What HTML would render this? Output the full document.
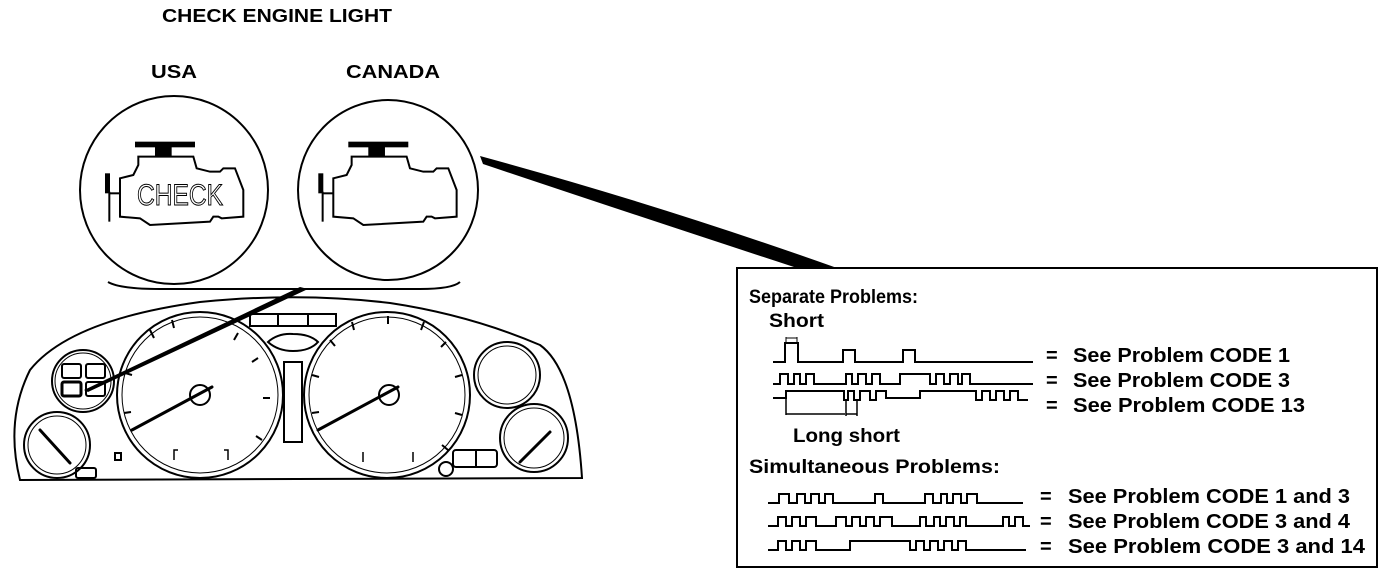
<!DOCTYPE html>
<html><head><meta charset="utf-8"><style>
html,body{margin:0;padding:0;background:#fff;}
svg{display:block;}
text{font-family:"Liberation Sans",sans-serif;font-weight:bold;fill:#000;}
</style></head><body>
<svg width="1392" height="574" viewBox="0 0 1392 574" xmlns="http://www.w3.org/2000/svg">
<text x="162" y="22" font-size="18" textLength="230" lengthAdjust="spacingAndGlyphs">CHECK ENGINE LIGHT</text>
<text x="151" y="78" font-size="18" textLength="46" lengthAdjust="spacingAndGlyphs">USA</text>
<text x="346" y="78" font-size="18" textLength="94" lengthAdjust="spacingAndGlyphs">CANADA</text>

<circle cx="174" cy="190" r="94" fill="none" stroke="#000" stroke-width="2"/>
<circle cx="388" cy="190" r="90" fill="none" stroke="#000" stroke-width="2"/>
<g transform="translate(70,90) scale(0.3333)" fill="none" stroke="#000" stroke-width="6">
 <g id="eng">
  <rect x="195" y="155" width="180" height="17" fill="#000" stroke="none"/>
  <rect x="255" y="170" width="50" height="32" fill="#000" stroke="none"/>
  <path d="M150,265 L190,255 L205,225 L205,200 L370,200 L380,235 L420,245 L450,245 L460,235 L495,235 L520,300 L520,380 L455,385 L445,380 L430,380 L420,395 L240,405 L210,385 L150,380 Z"/>
  <line x1="120" y1="310" x2="150" y2="310"/>
  <rect x="105" y="250" width="15" height="60" fill="#000" stroke="none"/>
  <line x1="118" y1="305" x2="118" y2="395"/>
 </g>
 <use href="#eng" transform="translate(640,0)"/>
</g>
<text x="137" y="205" font-size="30" textLength="86" lengthAdjust="spacingAndGlyphs" style="font-weight:normal;fill:none;stroke:#000;stroke-width:1">CHECK</text>

<path d="M108,282 Q120,289 160,289 L420,289 Q452,289 460,282" fill="none" stroke="#000" stroke-width="2"/>

<path d="M480,156 L483,164 Q650,220 797,268 L837,268 Q660,205 480,156 Z" fill="#000"/>

<rect x="737" y="268" width="640" height="299" fill="#fff" stroke="#000" stroke-width="2"/>
<text x="749" y="303" font-size="19" textLength="169" lengthAdjust="spacingAndGlyphs">Separate Problems:</text>
<text x="769" y="327" font-size="19" textLength="55" lengthAdjust="spacingAndGlyphs">Short</text>
<g fill="none" stroke="#000" stroke-width="2">
 <path d="M773,362 H785 V343 H798 V362 H843 V350 H855 V362 H903 V350 H915 V362 H1033"/>
 <path d="M786,337 V343 M797,337 V343 M786,338 H797" stroke-width="1"/>
 <path d="M773,384 H780 V374 H788 V384 H794 V374 H800 V384 H806 V374 H814 V384 H846 V374 H852 V384 H858 V374 H866 V384 H872 V374 H880 V384 H900 V374 H930 V384 H936 V374 H944 V384 H950 V374 H958 V384 H962 V374 H970 V384 H1033"/>
 <path d="M773,398 H786 V391 H844 V400 H848 V391 H854 V400 H860 V391 H870 V400 H876 V391 H886 V398 H920 V391 H976 V400 H982 V391 H990 V400 H996 V391 H1004 V400 H1010 V391 H1018 V400 H1028"/>
 <path d="M786,398 V415 M786,414 H845 M846,400 V416 M857,400 V416 M846,414 H857" stroke-width="1.5"/>
 <path d="M768,503 H779 V494 H789 V503 H797 V494 H805 V503 H811 V494 H819 V503 H825 V494 H833 V503 H875 V494 H883 V503 H925 V494 H933 V503 H941 V494 H947 V503 H953 V494 H961 V503 H967 V494 H977 V503 H1023"/>
 <path d="M768,526 H778 V517 H786 V526 H792 V517 H800 V526 H806 V517 H816 V526 H836 V517 H846 V526 H852 V517 H860 V526 H866 V517 H874 V526 H880 V517 H892 V526 H920 V517 H926 V526 H934 V517 H940 V526 H946 V517 H954 V526 H960 V517 H966 V526 H1003 V517 H1009 V526 H1015 V517 H1023 V526 H1030"/>
 <path d="M768,550 H778 V541 H786 V550 H792 V541 H800 V550 H806 V541 H816 V550 H850 V541 H910 V550 H916 V541 H924 V550 H930 V541 H938 V550 H944 V541 H952 V550 H958 V541 H966 V550 H1026"/>
</g>
<g font-size="20">
<text x="1046" y="362">=</text><text x="1073" y="362" textLength="217" lengthAdjust="spacingAndGlyphs">See Problem CODE 1</text>
<text x="1046" y="387">=</text><text x="1073" y="387" textLength="217" lengthAdjust="spacingAndGlyphs">See Problem CODE 3</text>
<text x="1046" y="412">=</text><text x="1073" y="412" textLength="232" lengthAdjust="spacingAndGlyphs">See Problem CODE 13</text>
<text x="1040" y="503">=</text><text x="1068" y="503" textLength="282" lengthAdjust="spacingAndGlyphs">See Problem CODE 1 and 3</text>
<text x="1040" y="528">=</text><text x="1068" y="528" textLength="282" lengthAdjust="spacingAndGlyphs">See Problem CODE 3 and 4</text>
<text x="1040" y="553">=</text><text x="1068" y="553" textLength="297" lengthAdjust="spacingAndGlyphs">See Problem CODE 3 and 14</text>
</g>
<text x="793" y="442" font-size="19" textLength="107" lengthAdjust="spacingAndGlyphs">Long short</text>
<text x="749" y="473" font-size="19" textLength="251" lengthAdjust="spacingAndGlyphs">Simultaneous Problems:</text>

<g fill="none" stroke="#000" stroke-width="2">
 <path d="M20,480 Q5,420 30,370 Q70,320 200,302 Q300,292 390,303 Q470,315 540,345 Q575,370 582,478 Z"/>
 <circle cx="200" cy="395" r="83"/><circle cx="200" cy="395" r="78" stroke-width="1"/>
 <circle cx="387" cy="395" r="83"/><circle cx="387" cy="395" r="78" stroke-width="1"/>
 <circle cx="83" cy="381" r="31"/><circle cx="83" cy="381" r="28" stroke-width="1"/>
 <circle cx="57" cy="445" r="33"/><circle cx="57" cy="445" r="29" stroke-width="1"/>
 <circle cx="507" cy="375" r="33"/><circle cx="507" cy="375" r="29" stroke-width="1"/>
 <circle cx="534" cy="438" r="34"/><circle cx="534" cy="438" r="30" stroke-width="1"/>
 <rect x="250" y="314" width="86" height="12"/>
 <line x1="278" y1="314" x2="278" y2="326"/><line x1="308" y1="314" x2="308" y2="326"/>
 <path d="M268,342 Q278,333 293,334 Q310,334 318,342 Q310,351 293,351 Q278,351 268,342 Z"/>
 <rect x="284" y="362" width="18" height="80"/>
 <rect x="62" y="364" width="19" height="14" rx="2"/><rect x="86" y="364" width="19" height="14" rx="2"/>
 <rect x="62" y="382" width="19" height="14" rx="2" stroke-width="3"/><rect x="86" y="382" width="19" height="14" rx="2"/>
 <rect x="115" y="453" width="6" height="7"/>
 <rect x="76" y="468" width="20" height="10" rx="2"/>
 <rect x="453" y="450" width="44" height="17" rx="3"/><line x1="476" y1="450" x2="476" y2="467"/>
 <circle cx="446" cy="469" r="7"/>
 <circle cx="200" cy="395" r="10"/><circle cx="389" cy="395" r="10"/>
 <path d="M178,450 L174,450 L174,460 M224,450 L228,450 L228,460" stroke-width="1.5"/>
 <path d="M363,452 V462 M413,452 V462" stroke-width="1.5"/>
</g>
<g stroke="#000" stroke-width="3" stroke-linecap="round">
 <line x1="132" y1="430" x2="212" y2="387"/>
 <line x1="318" y1="430" x2="398" y2="387"/>
 <line x1="40" y1="430" x2="70" y2="463"/>
 <line x1="550" y1="432" x2="520" y2="462"/>
</g>
<g stroke="#000" stroke-width="2">
 <line x1="150" y1="330" x2="154" y2="338"/><line x1="172" y1="320" x2="174" y2="328"/><line x1="238" y1="333" x2="234" y2="340"/><line x1="258" y1="358" x2="252" y2="362"/><line x1="270" y1="398" x2="263" y2="398"/><line x1="262" y1="440" x2="256" y2="436"/><line x1="125" y1="373" x2="132" y2="375"/><line x1="124" y1="413" x2="131" y2="412"/>
 <line x1="330" y1="340" x2="335" y2="346"/><line x1="352" y1="322" x2="354" y2="330"/><line x1="388" y1="316" x2="388" y2="324"/><line x1="424" y1="322" x2="421" y2="330"/><line x1="446" y1="342" x2="441" y2="347"/><line x1="462" y1="375" x2="455" y2="377"/><line x1="462" y1="415" x2="455" y2="413"/><line x1="448" y1="450" x2="442" y2="445"/><line x1="312" y1="375" x2="319" y2="377"/><line x1="312" y1="413" x2="319" y2="412"/>
</g>
<path d="M300,287 L308,289 L88,392 L84,390 Z" fill="#000"/>
</svg>
</body></html>
